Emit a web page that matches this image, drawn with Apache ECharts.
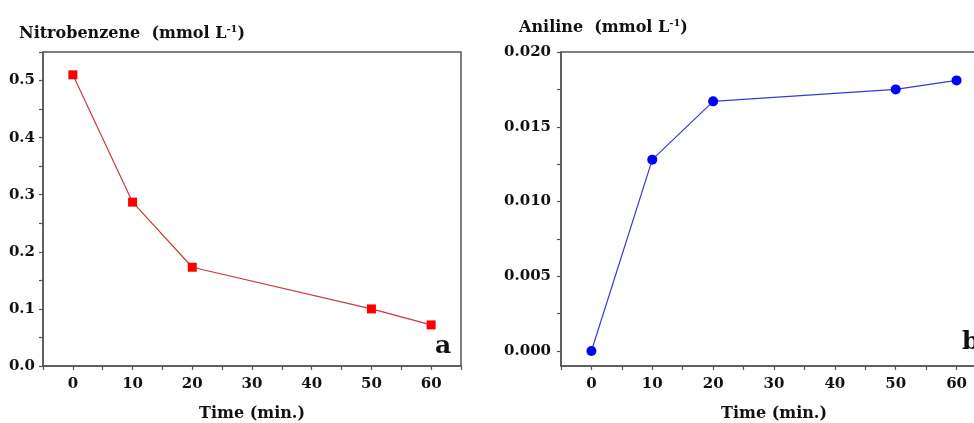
<!DOCTYPE html>
<html>
<head>
<meta charset="utf-8">
<script src="https://cdn.jsdelivr.net/npm/echarts@6/dist/echarts.min.js"></script>
<style>html,body{margin:0;padding:0;background:#fff}#c{width:974px;height:423px}</style>
</head>
<body>
<div id="c"></div>
<script>
const times = [0, 10, 20, 50, 60];
const nitrobenzene = [0.510, 0.287, 0.173, 0.100, 0.072];
const aniline = [0.0000, 0.0128, 0.0167, 0.0175, 0.0181];
const xTicks = [0, 10, 20, 30, 40, 50, 60];
const yTicksLeft = [0, 0.1, 0.2, 0.3, 0.4, 0.5];
const yTicksRight = [0, 0.005, 0.010, 0.015, 0.020];
const yMinorRight = [0, 0.0025, 0.005, 0.0075, 0.010, 0.0125, 0.015, 0.0175, 0.020];

const FONT = '"DejaVu Serif", "Liberation Serif", serif';
const AX = '#555';
const labelStyle = {fontFamily: FONT, fontWeight: 'bold', fontSize: 15, color: '#111'};

function xAxisCfg(gi) {
  return {
    gridIndex: gi, type: 'value', min: -5, max: 65, interval: 5,
    name: 'Time (min.)', nameLocation: 'middle', nameGap: 40,
    nameTextStyle: {fontFamily: FONT, fontWeight: 'bold', fontSize: 16, color: '#111'},
    axisLine: {onZero: false, lineStyle: {color: AX, width: 1.5}},
    axisTick: {inside: false, length: 4, lineStyle: {color: AX, width: 1.2}},
    axisLabel: Object.assign({margin: 11, formatter: v => (xTicks.indexOf(v) >= 0 ? String(v) : '')}, labelStyle),
    splitLine: {show: false}
  };
}

const option = {
  animation: false,
  backgroundColor: '#fff',
  grid: [
    {left: 43, top: 52, width: 418, height: 314, show: true, borderColor: AX, borderWidth: 1.5, outerBoundsMode: 'none', containLabel: false},
    {left: 561, top: 52, width: 426, height: 314, show: true, borderColor: AX, borderWidth: 1.5, outerBoundsMode: 'none', containLabel: false}
  ],
  title: [
    {
      left: 14, top: 19,
      text: '{t|Nitrobenzene  (mmol L}{s|-1}{t|)}',
      textStyle: {rich: {
        t: {fontFamily: FONT, fontWeight: 'bold', fontSize: 16, color: '#111'},
        s: {fontFamily: FONT, fontWeight: 'bold', fontSize: 10, color: '#111', padding: [0, 0, 10, 0]}
      }}
    },
    {
      left: 514, top: 13,
      text: '{t|Aniline  (mmol L}{s|-1}{t|)}',
      textStyle: {rich: {
        t: {fontFamily: FONT, fontWeight: 'bold', fontSize: 16, color: '#111'},
        s: {fontFamily: FONT, fontWeight: 'bold', fontSize: 10, color: '#111', padding: [0, 0, 10, 0]}
      }}
    }
  ],
  graphic: [
    {type: 'text', left: 435, top: 334, style: {text: 'a', font: 'bold 25px ' + FONT, fill: '#111'}},
    {type: 'text', left: 962, top: 330, style: {text: 'b', font: 'bold 25px ' + FONT, fill: '#111'}}
  ],
  xAxis: [xAxisCfg(0), xAxisCfg(1)],
  yAxis: [
    {
      gridIndex: 0, type: 'value', min: 0, max: 0.55, interval: 0.05,
      axisLine: {show: true, onZero: false, lineStyle: {color: AX, width: 1.5}},
      axisTick: {show: true, inside: false, length: 4, lineStyle: {color: AX, width: 1.2}},
      axisLabel: Object.assign({margin: 8, formatter: v => {
        const m = yTicksLeft.find(t => Math.abs(t - v) < 1e-9);
        return m === undefined ? '' : m.toFixed(1);
      }}, labelStyle),
      splitLine: {show: false}
    },
    {
      gridIndex: 1, type: 'value', min: -0.001, max: 0.020,
      axisLine: {show: true, onZero: false, lineStyle: {color: AX, width: 1.5}},
      axisTick: {show: true, inside: false, length: 4, customValues: yMinorRight, lineStyle: {color: AX, width: 1.2}},
      axisLabel: Object.assign({margin: 10, customValues: yTicksRight, formatter: v => v.toFixed(3)}, labelStyle),
      splitLine: {show: false}
    }
  ],
  series: [
    {
      type: 'line', xAxisIndex: 0, yAxisIndex: 0,
      data: times.map((t, i) => [t, nitrobenzene[i]]),
      symbol: 'rect', symbolSize: 9,
      itemStyle: {color: '#ff0000'},
      lineStyle: {color: '#c83a3a', width: 1.2}
    },
    {
      type: 'line', xAxisIndex: 1, yAxisIndex: 1,
      data: times.map((t, i) => [t, aniline[i]]),
      symbol: 'circle', symbolSize: 10,
      itemStyle: {color: '#0000ff'},
      lineStyle: {color: '#3a3acc', width: 1.2}
    }
  ]
};
echarts.init(document.getElementById('c')).setOption(option);
</script>
</body>
</html>
